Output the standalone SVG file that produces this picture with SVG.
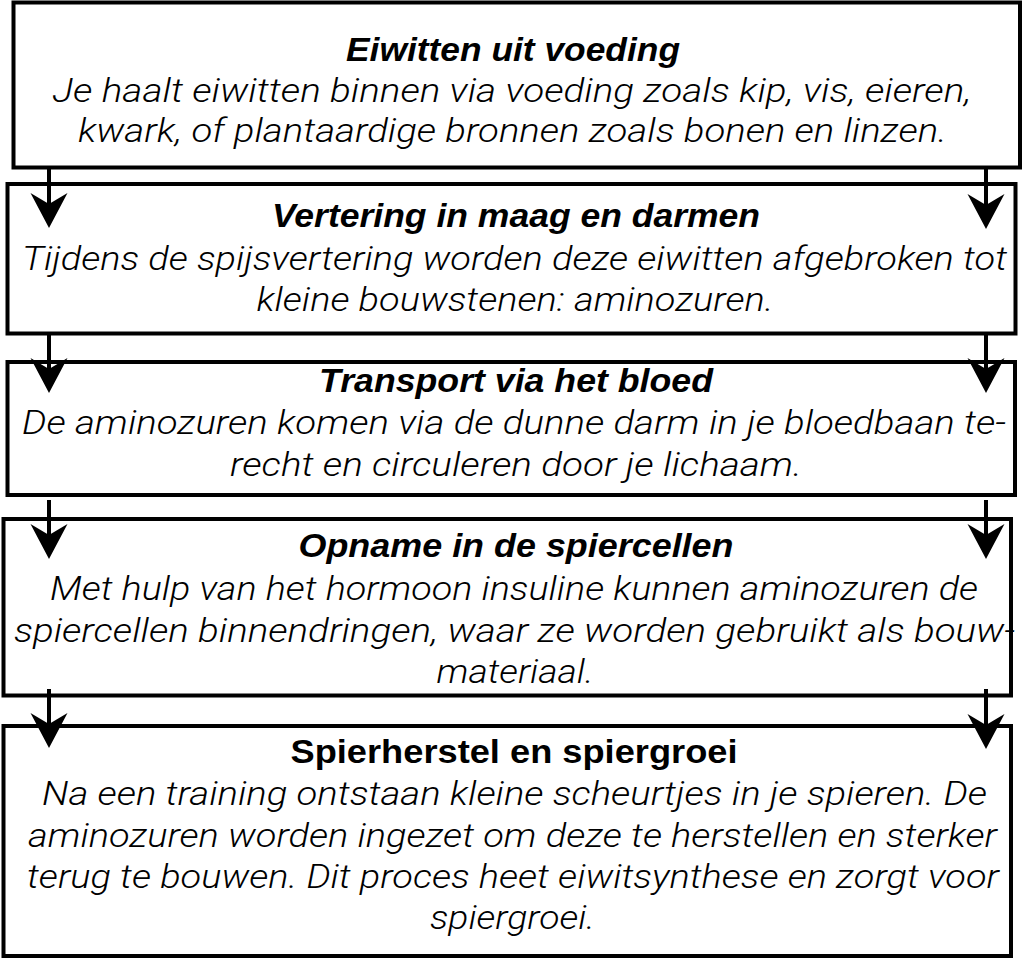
<svg xmlns="http://www.w3.org/2000/svg" width="1024" height="975" viewBox="0 0 1024 975">
<style>
.box{fill:#fff;stroke:#000;stroke-width:4}
.t{font-family:"Liberation Sans",Arial,sans-serif;font-size:33px;font-weight:bold;font-style:italic;text-anchor:middle;fill:#000}
.tn{font-family:"Liberation Sans",Arial,sans-serif;font-size:33px;font-weight:bold;text-anchor:middle;fill:#000}
.b{font-family:Roboto,"Liberation Sans",Arial,sans-serif;font-size:33px;font-weight:300;font-style:italic;text-anchor:middle;fill:#000}
.c{stroke:#000;stroke-width:4;fill:none;marker-end:url(#ah)}
</style>
<defs>
<marker id="ah" markerUnits="userSpaceOnUse" viewBox="0 0 36 38" markerWidth="36" markerHeight="38" refX="12" refY="19" orient="auto">
<path d="M35,19 L0,0.5 L11,19 L0,37.5 Z" fill="#000"/>
</marker>
</defs>
<rect width="1024" height="975" fill="#fff"/>
<g id="node1">
<rect class="box" x="13.5" y="2.5" width="1006.5" height="165"/>
<text class="t" x="513" y="61" textLength="334" lengthAdjust="spacingAndGlyphs">Eiwitten uit voeding</text>
<text class="b" x="512" y="102" textLength="919" lengthAdjust="spacingAndGlyphs">Je haalt eiwitten binnen via voeding zoals kip, vis, eieren,</text>
<text class="b" x="512.5" y="142" textLength="869" lengthAdjust="spacingAndGlyphs">kwark, of plantaardige bronnen zoals bonen en linzen.</text>
</g>
<g id="node2">
<rect class="box" x="7.5" y="184" width="1008" height="149.5"/>
<text class="t" x="516" y="227" textLength="488" lengthAdjust="spacingAndGlyphs">Vertering in maag en darmen</text>
<text class="b" x="514.5" y="270" textLength="985" lengthAdjust="spacingAndGlyphs">Tijdens de spijsvertering worden deze eiwitten afgebroken tot</text>
<text class="b" x="515" y="311" textLength="517" lengthAdjust="spacingAndGlyphs">kleine bouwstenen: aminozuren.</text>
</g>
<g id="node3">
<rect class="box" x="7.5" y="362" width="1007.5" height="133"/>
<text class="t" x="516" y="392" textLength="394" lengthAdjust="spacingAndGlyphs">Transport via het bloed</text>
<text class="b" x="514" y="434" textLength="984" lengthAdjust="spacingAndGlyphs">De aminozuren komen via de dunne darm in je bloedbaan te-</text>
<text class="b" x="516" y="476" textLength="572" lengthAdjust="spacingAndGlyphs">recht en circuleren door je lichaam.</text>
</g>
<g id="node4">
<rect class="box" x="3.5" y="519" width="1007.5" height="176.5"/>
<text class="t" x="516" y="557" textLength="435" lengthAdjust="spacingAndGlyphs">Opname in de spiercellen</text>
<text class="b" x="514" y="600" textLength="928" lengthAdjust="spacingAndGlyphs">Met hulp van het hormoon insuline kunnen aminozuren de</text>
<text class="b" x="514.5" y="642" textLength="1001" lengthAdjust="spacingAndGlyphs">spiercellen binnendringen, waar ze worden gebruikt als bouw-</text>
<text class="b" x="515" y="683" textLength="157" lengthAdjust="spacingAndGlyphs">materiaal.</text>
</g>
<g id="node5">
<rect class="box" x="3.5" y="726" width="1007.5" height="230"/>
<text class="tn" x="514" y="763" textLength="447" lengthAdjust="spacingAndGlyphs">Spierherstel en spiergroei</text>
<text class="b" x="514.5" y="805" textLength="945" lengthAdjust="spacingAndGlyphs">Na een training ontstaan kleine scheurtjes in je spieren. De</text>
<text class="b" x="512.5" y="847" textLength="969" lengthAdjust="spacingAndGlyphs">aminozuren worden ingezet om deze te herstellen en sterker</text>
<text class="b" x="513" y="888" textLength="972" lengthAdjust="spacingAndGlyphs">terug te bouwen. Dit proces heet eiwitsynthese en zorgt voor</text>
<text class="b" x="512.5" y="929" textLength="165" lengthAdjust="spacingAndGlyphs">spiergroei.</text>
</g>
<g id="connectors">
<line class="c" x1="49" y1="168" x2="49" y2="205"/>
<line class="c" x1="986" y1="168" x2="986" y2="206"/>
<line class="c" x1="49" y1="333" x2="49" y2="370"/>
<line class="c" x1="986" y1="333" x2="986" y2="370"/>
<line class="c" x1="49" y1="500" x2="49" y2="536"/>
<line class="c" x1="986" y1="500" x2="986" y2="536"/>
<line class="c" x1="49" y1="689" x2="49" y2="725"/>
<line class="c" x1="986" y1="689" x2="986" y2="726"/>
</g>
</svg>
